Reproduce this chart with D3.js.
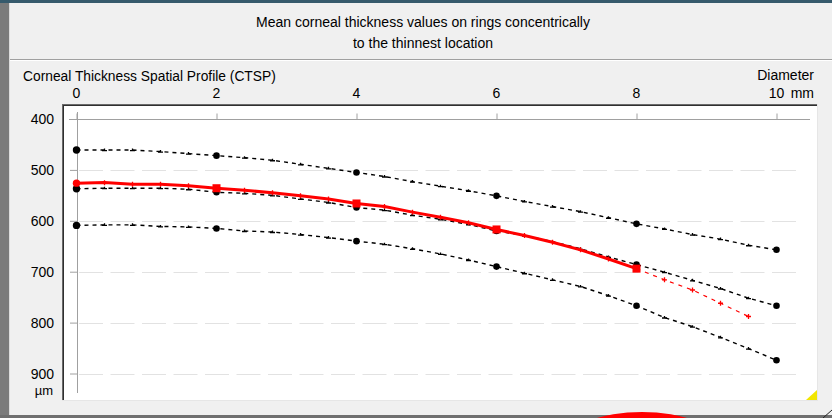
<!DOCTYPE html>
<html>
<head>
<meta charset="utf-8">
<script src="https://cdn.jsdelivr.net/npm/d3@7"></script>
<style>
  html, body { margin: 0; padding: 0; background: #f0f0f0; }
  svg { display: block; }
  text { font-family: "Liberation Sans", Arial, sans-serif; fill: #000; }
</style>
</head>
<body>
<svg id="chart" width="832" height="418"></svg>
<script>
// ---- data ----
const titleLines = ["Mean corneal thickness values on rings concentrically", "to the thinnest location"];
const chartLabel = "Corneal Thickness Spatial Profile (CTSP)";
const xTicks = [0, 2, 4, 6, 8, 10];
const yTicks = [400, 500, 600, 700, 800, 900];
const xUnitTop = "Diameter";
const xUnit = "mm";
const yUnit = "µm";

// ring diameters (mm)
const diameters = [0, 0.4, 0.8, 1.2, 1.6, 2.0, 2.4, 2.8, 3.2, 3.6, 4.0, 4.4, 4.8, 5.2, 5.6, 6.0, 6.4, 6.8, 7.2, 7.6, 8.0, 8.4, 8.8, 9.2, 9.6, 10.0];
// normative curves (µm)
const normThin  = [461, 461, 461, 464, 468, 472, 476, 481, 489, 497, 505, 513, 523, 532, 541, 551, 562, 572, 582, 594, 606, 616, 627, 636, 648, 657];
const normMean  = [537, 536, 536, 536, 538, 544, 546, 550, 557, 564, 574, 579, 589, 597, 607, 620, 629, 641, 655, 671, 686, 701, 717, 733, 752, 767];
const normThick = [609, 608, 608, 611, 612, 615, 620, 622, 627, 633, 640, 646, 655, 665, 677, 690, 703, 716, 729, 747, 767, 790, 808, 829, 851, 874];
// patient curve (µm), measured up to 9.6 mm
const patient   = [526, 525, 528, 528, 531, 536, 540, 545, 551, 557, 566, 572, 583, 593, 604, 617, 629, 642, 657, 675, 694, 716, 736, 762, 788];
const patientSolidUntil = 8.0;  // beyond this the curve is extrapolated (dashed)
const majorDiameters = [0, 2, 4, 6, 8, 10];

// ---- drawing ----
const svg = d3.select("#chart");
const W = 832, H = 418;
const FS = 14;

// window frame
svg.append("rect").attr("x", 0).attr("y", 0).attr("width", W).attr("height", H).attr("fill", "#f0f0f0");
svg.append("rect").attr("x", 0).attr("y", 0).attr("width", 9).attr("height", H).attr("fill", "#7b7b7b");
svg.append("rect").attr("x", 9).attr("y", 0).attr("width", 1).attr("height", H).attr("fill", "#dcdcdc");
svg.append("rect").attr("x", 0).attr("y", 0).attr("width", W).attr("height", 3).attr("fill", "#365a6c");
svg.append("rect").attr("x", 0).attr("y", 415).attr("width", W).attr("height", 3).attr("fill", "#6f6f6f");
svg.append("ellipse").attr("cx", 642).attr("cy", 442).attr("rx", 75).attr("ry", 30).attr("fill", "#ff0000");
svg.append("line").attr("x1", 823).attr("y1", 418).attr("x2", 832).attr("y2", 410).attr("stroke", "#222").attr("stroke-width", 1);

// title
svg.append("text").attr("x", 423).attr("y", 27).attr("text-anchor", "middle").attr("font-size", FS).text(titleLines[0]);
svg.append("text").attr("x", 423).attr("y", 48).attr("text-anchor", "middle").attr("font-size", FS).text(titleLines[1]);
svg.append("line").attr("x1", 10).attr("x2", W).attr("y1", 59.5).attr("y2", 59.5).attr("stroke", "#a0a0a0");
svg.append("line").attr("x1", 10).attr("x2", W).attr("y1", 60.5).attr("y2", 60.5).attr("stroke", "#ffffff");

// plot box
svg.append("rect").attr("x", 62).attr("y", 104).attr("width", 756).attr("height", 297).attr("fill", "#ffffff");
svg.append("line").attr("x1", 62.5).attr("x2", 62.5).attr("y1", 104).attr("y2", 401).attr("stroke", "#6a6a6a");
svg.append("line").attr("x1", 63.5).attr("x2", 63.5).attr("y1", 105).attr("y2", 401).attr("stroke", "#303030");
svg.append("line").attr("x1", 62).attr("x2", 818).attr("y1", 104.5).attr("y2", 104.5).attr("stroke", "#6a6a6a");
svg.append("line").attr("x1", 63).attr("x2", 818).attr("y1", 105.5).attr("y2", 105.5).attr("stroke", "#303030");
svg.append("line").attr("x1", 62).attr("x2", 818).attr("y1", 400.5).attr("y2", 400.5).attr("stroke", "#e6e6e6");
svg.append("line").attr("x1", 817.5).attr("x2", 817.5).attr("y1", 104).attr("y2", 401).attr("stroke", "#e6e6e6");
svg.append("path").attr("d", "M817,390L817,400L806,400Z").attr("fill", "#f2e600");

// scales
const x = d3.scaleLinear().domain([0, 10]).range([76.5, 776.5]);
const y = d3.scaleLinear().domain([400, 900]).range([119, 373.5]);

// grid (dashed, light)
svg.append("g").selectAll("line").data(yTicks.slice(1)).join("line")
  .attr("x1", 79).attr("x2", 796)
  .attr("y1", d => Math.round(y(d)) + 0.5).attr("y2", d => Math.round(y(d)) + 0.5)
  .attr("stroke", "#e2e2e2").attr("stroke-width", 1).attr("stroke-dasharray", "24,7.5");

// top horizontal axis line (at 400) with ticks
const topY = Math.round(y(400)) + 0.5;
const xAxis = d3.axisTop(x).tickValues(xTicks).tickSize(6).tickFormat("");
const gx = svg.append("g").attr("transform", `translate(0,${topY})`).call(xAxis);
gx.select(".domain").remove();
gx.selectAll(".tick line").attr("stroke", "#a0a0a0");
svg.append("line").attr("x1", 69).attr("x2", 810).attr("y1", topY).attr("y2", topY).attr("stroke", "#a0a0a0");

// left vertical axis line with ticks
const yAxis = d3.axisLeft(y).tickValues(yTicks.slice(1)).tickSize(7).tickFormat("");
const gy = svg.append("g").attr("transform", `translate(${Math.round(x(0))},0)`).call(yAxis);
gy.select(".domain").remove();
gy.selectAll(".tick line").attr("stroke", "#a0a0a0");
svg.append("line").attr("x1", Math.round(x(0)) + 0.5).attr("x2", Math.round(x(0)) + 0.5)
  .attr("y1", 112).attr("y2", 393).attr("stroke", "#a0a0a0");

// axis labels
svg.append("text").attr("x", 23).attr("y", 81).attr("font-size", FS - 0.2).text(chartLabel);
svg.append("g").selectAll("text").data(xTicks).join("text")
  .attr("x", d => x(d)).attr("y", 98).attr("text-anchor", "middle").attr("font-size", FS)
  .text(d => d);
svg.append("text").attr("x", 814).attr("y", 80).attr("text-anchor", "end").attr("font-size", FS).text(xUnitTop);
svg.append("text").attr("x", 814).attr("y", 98).attr("text-anchor", "end").attr("font-size", FS).text(xUnit);
svg.append("g").selectAll("text").data(yTicks).join("text")
  .attr("x", 54).attr("y", d => y(d) + 5).attr("text-anchor", "end").attr("font-size", FS)
  .text(d => d);
svg.append("text").attr("x", 53).attr("y", 395).attr("text-anchor", "end").attr("font-size", 13).text(yUnit);

// curves
const line = d3.line().x(d => x(d[0])).y(d => y(d[1]));
const isMajor = d => majorDiameters.some(m => Math.abs(m - d) < 1e-9);

function drawNorm(values) {
  const pts = diameters.map((d, i) => [d, values[i]]);
  const g = svg.append("g");
  g.append("path").attr("d", line(pts)).attr("fill", "none")
    .attr("stroke", "#000").attr("stroke-width", 1.4).attr("stroke-dasharray", "4,4");
  g.selectAll(".minor").data(pts.filter(p => !isMajor(p[0]))).join("path")
    .attr("transform", p => `translate(${x(p[0])},${y(p[1])})`)
    .attr("d", "M-2.5,0.5H2.5M0,-1.5V0.5").attr("stroke", "#000").attr("stroke-width", 1.3).attr("fill", "none");
  g.selectAll(".major").data(pts.filter(p => isMajor(p[0]))).join("circle")
    .attr("cx", p => x(p[0])).attr("cy", p => y(p[1])).attr("r", p => p[0] === 0 ? 3.7 : 3.3)
    .attr("fill", "#000");
}
drawNorm(normThin);
drawNorm(normThick);
drawNorm(normMean);

// patient
const pPts = patient.map((v, i) => [diameters[i], v]);
const solidPts = pPts.filter(p => p[0] <= patientSolidUntil + 1e-9);
const dashPts = pPts.filter(p => p[0] >= patientSolidUntil - 1e-9);
const pg = svg.append("g");
pg.append("path").attr("d", line(dashPts)).attr("fill", "none")
  .attr("stroke", "#ff0000").attr("stroke-width", 1.2).attr("stroke-dasharray", "4,5");
pg.append("path").attr("d", line(solidPts)).attr("fill", "none")
  .attr("stroke", "#ff0000").attr("stroke-width", 3);
pg.selectAll(".minor").data(pPts.filter(p => !isMajor(p[0]))).join("path")
  .attr("transform", p => `translate(${x(p[0])},${y(p[1])})`)
  .attr("d", "M-2.5,0H2.5M0,-2.5V2.5").attr("stroke", "#ff0000").attr("stroke-width", 1.3).attr("fill", "none");
pg.selectAll(".sq").data(pPts.filter(p => isMajor(p[0]) && p[0] > 0)).join("rect")
  .attr("x", p => x(p[0]) - 4).attr("y", p => y(p[1]) - 4).attr("width", 8).attr("height", 8)
  .attr("fill", "#ff0000");
pg.selectAll(".dot").data(pPts.filter(p => p[0] === 0)).join("circle")
  .attr("cx", p => x(p[0])).attr("cy", p => y(p[1])).attr("r", 3.7).attr("fill", "#ff0000");
</script>
</body>
</html>
